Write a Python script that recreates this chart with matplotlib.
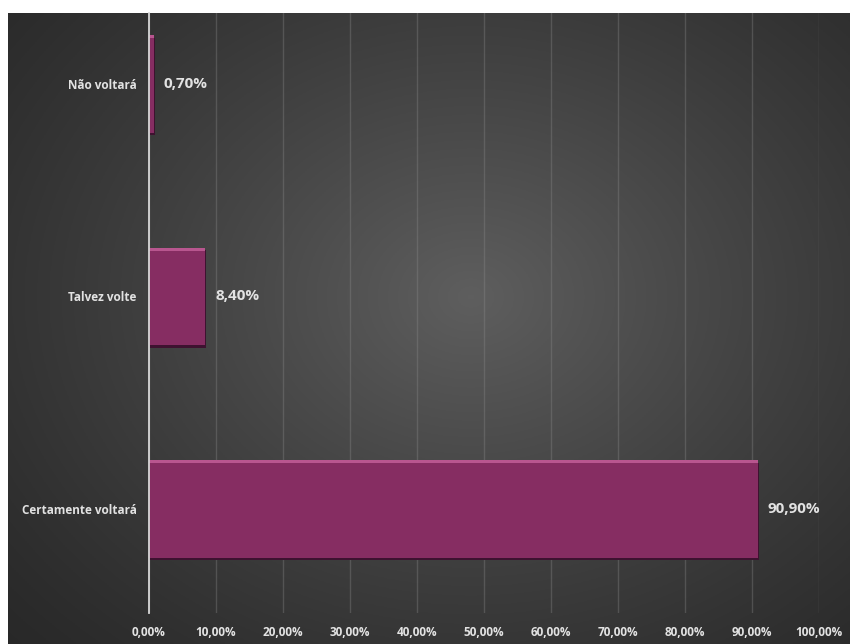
import numpy as np
import matplotlib.pyplot as plt

# survey answers: will the visitor come back?
categories = ["Não voltará", "Talvez volte", "Certamente voltará"]
shares = [0.70, 8.40, 90.90]
ticks = list(range(0, 101, 10))
tick_labels = [f"{t:.2f}%".replace(".", ",") for t in ticks]

W, H, DPI = 850, 644, 100
fig = plt.figure(figsize=(W / DPI, H / DPI), dpi=DPI, facecolor="white")
plt.rcParams["font.family"] = ["Open Sans", "DejaVu Sans"]

# dark panel with a soft radial glow
bg = fig.add_axes([8 / W, 0, 1 - 8 / W, 1 - 13 / H], zorder=0)
gx, gy = np.meshgrid(np.linspace(0, 1, 400), np.linspace(0, 1, 300))
r = np.sqrt(((gx - 0.55) / 0.75) ** 2 + ((gy - 0.45) / 0.8) ** 2)
glow = np.clip(1 - r, 0, 1) ** 1.2
shade = 0.16 + 0.21 * glow
bg.imshow(np.dstack([shade] * 3), aspect="auto", extent=[0, 1, 1, 0])
bg.set_axis_off()

ax = fig.add_axes([149 / W, 1 - 613 / H, (819 - 149) / W, (613 - 13) / H], zorder=1)
ax.patch.set_alpha(0)

y = np.arange(len(categories))
h = 0.46
ax.barh(y + 0.012, shares, height=h, left=0.15, color="#3e1230", zorder=2)
ax.barh(y, shares, height=h, color="#862d62", zorder=3)
ax.barh(y - h / 2 + 0.007, shares, height=0.014, color="#b8568f", zorder=4)

for yi, v in zip(y, shares):
    ax.annotate(f"{v:.2f}%".replace(".", ","), (v, yi), xytext=(7, 0),
                textcoords="offset points", va="center", ha="left",
                color="#e2e2e2", fontsize=11, fontweight="bold", zorder=5)

ax.set_xlim(0, 100)
ax.set_ylim(2.49, -0.334)
ax.set_xticks(ticks)
ax.set_xticklabels(tick_labels)
ax.set_yticks(y)
ax.set_yticklabels(categories)
ax.tick_params(axis="x", length=0, pad=9, labelsize=8.5, labelcolor="#e2e2e2")
ax.tick_params(axis="y", length=0, pad=9, labelsize=8.5, labelcolor="#e2e2e2")
for lab in ax.get_xticklabels() + ax.get_yticklabels():
    lab.set_fontweight("bold")

ax.grid(axis="x", color="#8a8a8a", alpha=0.35, linewidth=1, zorder=1)
ax.set_axisbelow(True)
for s in ["top", "right", "bottom"]:
    ax.spines[s].set_visible(False)
ax.spines["left"].set_color("#d8d8d8")
ax.spines["left"].set_linewidth(1.3)
ax.spines["left"].set_zorder(6)

fig.savefig("out.png", dpi=DPI, facecolor="white")
